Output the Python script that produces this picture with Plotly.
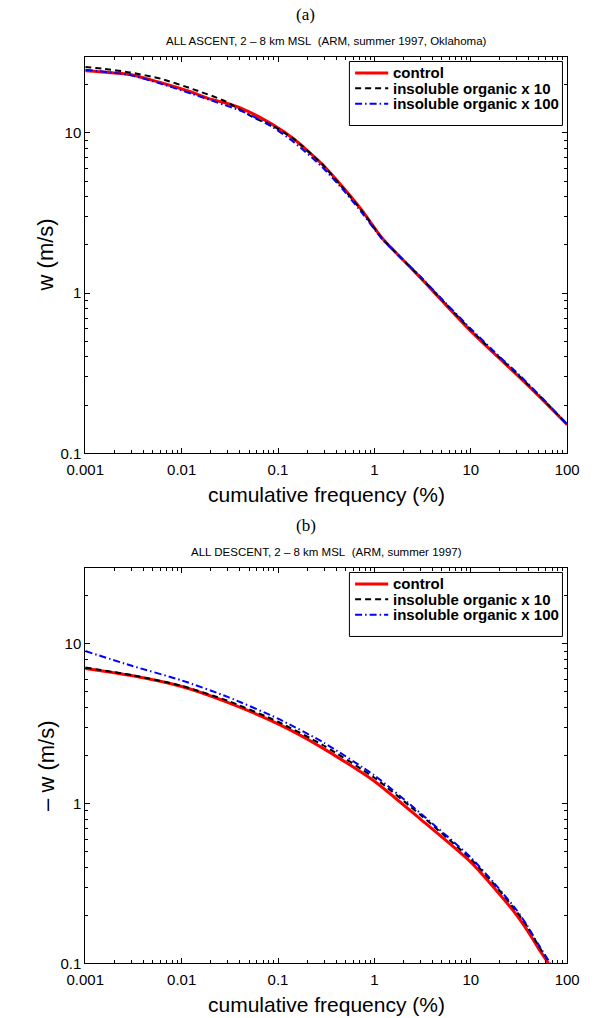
import plotly.graph_objects as go
import math

W, H = 601, 1018

# ---------------- data ----------------
# Panel (a): ALL ASCENT
asc_freq_control = [0.001, 0.0029, 0.0061, 0.013, 0.019, 0.0276, 0.0434, 0.0855, 0.145, 0.286, 0.484, 0.76, 1.2, 1.75, 3, 5, 10, 20, 30, 51.9, 100]
asc_w_control    = [24.5, 23.2, 20.6, 17.9, 16.4, 15.5, 14.1, 11.4, 9.2, 6.4, 4.5, 3.23, 2.21, 1.74, 1.25, 0.9, 0.58, 0.39, 0.31, 0.225, 0.151]

asc_freq_org10 = [0.001, 0.0015, 0.0029, 0.0061, 0.013, 0.0276, 0.0585, 0.0855, 0.145, 0.286, 0.484, 0.76, 1.2, 1.75, 3, 5, 10, 20, 30, 51.9, 100]
asc_w_org10    = [25.8, 25.2, 23.9, 21.8, 18.8, 15.9, 12.3, 11.2, 9.2, 6.4, 4.45, 3.2, 2.2, 1.74, 1.26, 0.91, 0.59, 0.395, 0.315, 0.228, 0.152]

asc_freq_org100 = [0.001, 0.0029, 0.0061, 0.013, 0.0276, 0.0434, 0.0855, 0.145, 0.286, 0.484, 0.76, 1.2, 1.75, 3, 5, 10, 20, 30, 51.9, 100]
asc_w_org100    = [24.8, 23.0, 20.3, 17.5, 15.0, 13.6, 11.0, 8.8, 6.15, 4.35, 3.12, 2.18, 1.74, 1.27, 0.92, 0.6, 0.4, 0.32, 0.23, 0.152]

# Panel (b): ALL DESCENT (-w)
des_freq_control = [0.001, 0.0031, 0.01, 0.03, 0.1, 0.3, 1, 3, 10, 19, 30, 38.6, 50, 64]
des_w_control    = [7.0, 6.3, 5.4, 4.3, 3.15, 2.2, 1.38, 0.8, 0.43, 0.28, 0.2, 0.161, 0.125, 0.1]

des_freq_org10 = [0.001, 0.0031, 0.01, 0.03, 0.1, 0.3, 1, 3, 10, 19, 30, 38.6, 50, 66]
des_w_org10    = [7.1, 6.35, 5.45, 4.4, 3.25, 2.3, 1.45, 0.85, 0.45, 0.295, 0.21, 0.17, 0.13, 0.1]

des_freq_org100 = [0.001, 0.0031, 0.01, 0.03, 0.1, 0.3, 1, 3, 10, 19, 30, 38.6, 50, 67]
des_w_org100    = [9.0, 7.25, 5.9, 4.65, 3.4, 2.4, 1.5, 0.87, 0.46, 0.3, 0.215, 0.172, 0.132, 0.1]

series_names = ["control", "insoluble organic x 10", "insoluble organic x 100"]
x_tickvals = [0.001, 0.01, 0.1, 1, 10, 100]
x_ticktext = ["0.001", "0.01", "0.1", "1", "10", "100"]
y_tickvals = [0.1, 1, 10]
y_ticktext = ["0.1", "1", "10"]
panel_letters = ["(a)", "(b)"]
panel_titles = ["ALL ASCENT, 2 \u2013 8 km MSL\u00a0\u00a0(ARM, summer 1997, Oklahoma)",
                "ALL DESCENT, 2 \u2013 8 km MSL\u00a0\u00a0(ARM, summer 1997)"]
y_titles = ["w (m/s)", "\u2013 w (m/s)"]
x_title = "cumulative frequency (%)"

# ---------------- styles ----------------
styles = [
    dict(color="#ff0000", width=3, dash="solid"),
    dict(color="#000000", width=2, dash="6px,4px"),
    dict(color="#0000ff", width=2, dash="7px,3px,1.5px,3px"),
]
SANS = "Liberation Sans, Arial, sans-serif"
SERIF = "Liberation Serif, Times New Roman, serif"

def px(x):
    return x / W

def py(y):
    return 1 - y / H

L, R = 70, 579
panels = [(57, 457), (572, 971)]  # (top, bottom) in pixels

fig = go.Figure()
data_sets = [
    [(asc_freq_control, asc_w_control), (asc_freq_org10, asc_w_org10), (asc_freq_org100, asc_w_org100)],
    [(des_freq_control, des_w_control), (des_freq_org10, des_w_org10), (des_freq_org100, des_w_org100)],
]
for p, sets in enumerate(data_sets):
    xa = "x" if p == 0 else "x2"
    ya = "y" if p == 0 else "y2"
    for i, (xs, ys) in enumerate(sets):
        fig.add_trace(go.Scatter(x=xs, y=ys, mode="lines", name=series_names[i],
                                 line=dict(**styles[i], shape="spline", smoothing=0.6),
                                 xaxis=xa, yaxis=ya, showlegend=False))

minor_x = [d * 10 ** k for k in range(-3, 2) for d in range(2, 10)]
minor_y = [d * 10 ** k for k in range(-1, 2) for d in range(2, 10) if d * 10 ** k <= 30]

def axis_common():
    return dict(type="log", showline=True, linecolor="black", linewidth=1,
                mirror="ticks", ticks="inside", ticklen=5, tickwidth=1, tickcolor="black",
                showgrid=False, zeroline=False,
                tickfont=dict(family=SANS, size=15, color="black"))

annotations = []
shapes = []
layout = dict(width=W, height=H, margin=dict(l=0, r=0, t=0, b=0),
              paper_bgcolor="white", plot_bgcolor="white", showlegend=False)

for p, (top, bot) in enumerate(panels):
    sx = "" if p == 0 else "2"
    xa = axis_common()
    xa.update(domain=[px(L), px(R)], range=[-3, 2], anchor="y" + sx,
              tickmode="array", tickvals=x_tickvals, ticktext=x_ticktext,
              ticklabelstandoff=3,
              minor=dict(ticks="inside", ticklen=3, tickwidth=1, tickcolor="black",
                         tickmode="array", tickvals=minor_x, showgrid=False))
    ya = axis_common()
    ya.update(domain=[py(bot), py(top)], range=[-1, math.log10(30)], anchor="x" + sx,
              tickmode="array", tickvals=y_tickvals, ticktext=y_ticktext,
              minor=dict(ticks="inside", ticklen=3, tickwidth=1, tickcolor="black",
                         tickmode="array", tickvals=minor_y, showgrid=False))
    layout["xaxis" + sx] = xa
    layout["yaxis" + sx] = ya

    # panel letter and subtitle
    annotations.append(dict(text=panel_letters[p], x=px(303), y=py(top - 42), xref="paper", yref="paper",
                            showarrow=False, xanchor="center", yanchor="middle",
                            font=dict(family=SERIF, size=17, color="black")))
    annotations.append(dict(text=panel_titles[p], x=px((L + R) / 2), y=py(top - 16), xref="paper", yref="paper",
                            showarrow=False, xanchor="center", yanchor="middle",
                            font=dict(family=SANS, size=11.5, color="black")))
    # axis titles
    annotations.append(dict(text=x_title, x=px((L + R) / 2), y=py(bot + 41), xref="paper", yref="paper",
                            showarrow=False, xanchor="center", yanchor="middle",
                            font=dict(family=SANS, size=21, color="black")))
    annotations.append(dict(text=y_titles[p], x=px(29), y=py((top + bot) / 2), xref="paper", yref="paper",
                            showarrow=False, xanchor="center", yanchor="middle", textangle=-90,
                            font=dict(family=SANS, size=22, color="black")))

    # legend box (manual, MATLAB style)
    bx0, bx1 = 349, 574
    by0 = top + 5
    row_h = 15.5
    by1 = by0 + 12 + 3 * row_h + 6
    shapes.append(dict(type="rect", xref="paper", yref="paper", x0=px(bx0), x1=px(bx1),
                       y0=py(by0), y1=py(by1), line=dict(color="black", width=1), fillcolor="white", layer="above"))
    for i in range(3):
        yy = by0 + 11.5 + i * row_h
        shapes.append(dict(type="line", xref="paper", yref="paper", x0=px(355), x1=px(390),
                           y0=py(yy), y1=py(yy), layer="above",
                           line=dict(color=styles[i]["color"], width=styles[i]["width"], dash=styles[i]["dash"])))
        annotations.append(dict(text="<b>" + series_names[i] + "</b>", x=px(393), y=py(yy), xref="paper", yref="paper",
                                showarrow=False, xanchor="left", yanchor="middle",
                                font=dict(family=SANS, size=15, color="black")))

layout["annotations"] = annotations
layout["shapes"] = shapes
fig.update_layout(**layout)
fig.write_html("out.html")
